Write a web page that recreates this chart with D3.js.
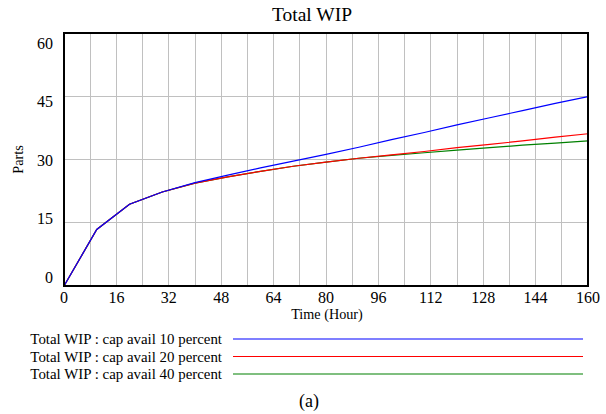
<!DOCTYPE html>
<html>
<head>
<meta charset="utf-8">
<script src="https://cdn.jsdelivr.net/npm/d3@7"></script>
<style>
  html, body { margin: 0; padding: 0; background: #fff; }
  svg { display: block; }
  text { font-family: "Liberation Serif", "Times New Roman", serif; fill: #000; }
</style>
</head>
<body>
<svg id="chart" width="606" height="414"></svg>
<script>
// ---- data ----
const time = [0, 10, 20, 30, 40, 50, 60, 70, 80, 90, 100, 110, 120, 130, 140, 150, 160];
const wip10 = [0, 13.4, 19.4, 22.3, 24.5, 26.3, 28.0, 29.6, 31.2, 32.9, 34.7, 36.4, 38.2, 39.9, 41.6, 43.3, 44.9];
const wip20 = [0, 13.4, 19.4, 22.3, 24.4, 25.9, 27.2, 28.4, 29.4, 30.3, 31.1, 31.9, 32.8, 33.6, 34.4, 35.3, 36.1];
const wip40 = [0, 13.4, 19.4, 22.3, 24.4, 25.9, 27.2, 28.4, 29.4, 30.3, 31.0, 31.6, 32.2, 32.8, 33.4, 33.9, 34.4];
const seriesNames = ["Total WIP : cap avail 10 percent", "Total WIP : cap avail 20 percent", "Total WIP : cap avail 40 percent"];
const seriesColors = ["#0000ff", "#ff0000", "#008000"];
const xTickLabels = [0, 16, 32, 48, 64, 80, 96, 112, 128, 144, 160];
const xGrid = d3.range(0, 161, 8);
const yTickLabels = [0, 15, 30, 45, 60];

// ---- layout ----
const svg = d3.select("#chart");
const L = 64, R = 588, T = 33, B = 286;
const x = d3.scaleLinear().domain([0, 160]).range([L, R]);
const y = d3.scaleLinear().domain([0, 60]).range([B, T]);
// Vensim places y labels on a slightly compressed range
const yLab = d3.scaleLinear().domain([0, 60]).range([277, 43]);

// grid
svg.append("g").selectAll("line.v").data(xGrid).join("line")
  .attr("x1", d => x(d)).attr("x2", d => x(d))
  .attr("y1", T).attr("y2", B)
  .attr("stroke", "#c0c0c0").attr("stroke-width", 1).attr("shape-rendering", "crispEdges");
svg.append("g").selectAll("line.h").data(yTickLabels).join("line")
  .attr("x1", L).attr("x2", R)
  .attr("y1", d => y(d)).attr("y2", d => y(d))
  .attr("stroke", "#c0c0c0").attr("stroke-width", 1).attr("shape-rendering", "crispEdges");

// series
const allSeries = [wip10, wip20, wip40];
const line = d3.line().x((d, i) => x(time[i])).y(d => y(d));
const drawOrder = [2, 1, 0];
drawOrder.forEach(k => {
  svg.append("path").datum(allSeries[k])
    .attr("d", line)
    .attr("fill", "none")
    .attr("stroke", seriesColors[k])
    .attr("stroke-width", 1.2);
});

// frame
svg.append("rect").attr("x", L).attr("y", T).attr("width", R - L).attr("height", B - T)
  .attr("fill", "none").attr("stroke", "#000").attr("stroke-width", 2);

// axis labels
svg.append("g").selectAll("text").data(xTickLabels).join("text")
  .attr("x", d => x(d)).attr("y", 303)
  .attr("text-anchor", "middle").attr("font-size", 16)
  .text(d => d);
svg.append("g").selectAll("text").data(yTickLabels).join("text")
  .attr("x", 53).attr("y", d => yLab(d)).attr("dy", "0.35em")
  .attr("text-anchor", "end").attr("font-size", 16)
  .text(d => d);

svg.append("text").attr("x", 312).attr("y", 21)
  .attr("text-anchor", "middle").attr("font-size", 19.5).text("Total WIP");
svg.append("text").attr("x", (L + R) / 2 + 1).attr("y", 319)
  .attr("text-anchor", "middle").attr("font-size", 14.2).text("Time (Hour)");
svg.append("text")
  .attr("transform", `translate(23, ${(T + B) / 2}) rotate(-90)`)
  .attr("text-anchor", "middle").attr("font-size", 14.2).text("Parts");

// legend
const legY = d3.scaleLinear().domain([0, 2]).range([339, 374]);
const leg = svg.append("g").selectAll("g").data(seriesNames).join("g");
leg.append("text").attr("x", 222).attr("y", (d, i) => legY(i) + 5)
  .attr("text-anchor", "end").attr("font-size", 14.9).text(d => d);
leg.append("line").attr("x1", 233).attr("x2", 583)
  .attr("y1", (d, i) => legY(i)).attr("y2", (d, i) => legY(i))
  .attr("stroke", (d, i) => seriesColors[i]).attr("stroke-width", 1.2);

svg.append("text").attr("x", 309).attr("y", 407)
  .attr("text-anchor", "middle").attr("font-size", 18).text("(a)");
</script>
</body>
</html>
